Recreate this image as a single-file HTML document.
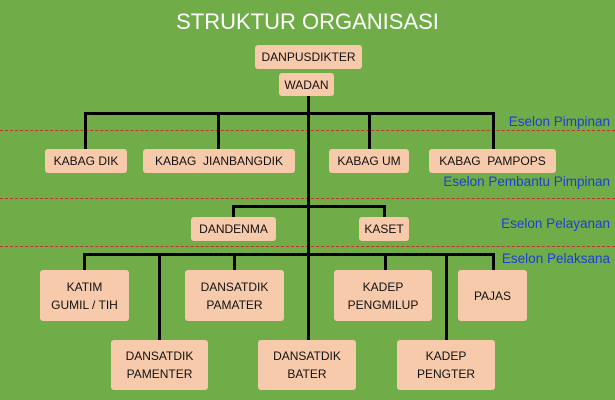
<!DOCTYPE html>
<html><head><style>
body{margin:0;width:615px;height:400px;background:#70ac47;position:relative;overflow:hidden;font-family:"Liberation Sans",sans-serif}
.b{position:absolute;background:#f7caac;border-radius:3px;display:flex;align-items:center;justify-content:center;text-align:center;font-size:12px;color:#111;line-height:18px;font-weight:500}
.l{position:absolute;background:#000}
.e{position:absolute;right:5px;color:#1c3fd8;font-size:13.5px}
.r{position:absolute;left:0;width:615px;border-top:1px dashed #c8302a}
</style></head><body>
<div style="position:absolute;top:9px;width:615px;text-align:center;color:#fff;font-size:22px">STRUKTUR ORGANISASI</div>
<div class="r" style="top:130px"></div><div class="r" style="top:198px"></div><div class="r" style="top:246px"></div>
<div class="l" style="left:307px;top:96px;width:3px;height:160px"></div>
<div class="l" style="left:84px;top:112px;width:411px;height:3px"></div>
<div class="l" style="left:84px;top:112px;width:3px;height:37px"></div>
<div class="l" style="left:217px;top:112px;width:3px;height:37px"></div>
<div class="l" style="left:368px;top:112px;width:3px;height:37px"></div>
<div class="l" style="left:492px;top:112px;width:3px;height:37px"></div>
<div class="l" style="left:232px;top:205px;width:154px;height:3px"></div>
<div class="l" style="left:232px;top:205px;width:3px;height:12px"></div>
<div class="l" style="left:383px;top:205px;width:3px;height:12px"></div>
<div class="l" style="left:83px;top:253px;width:412px;height:3px"></div>
<div class="l" style="left:83px;top:253px;width:3px;height:17px"></div>
<div class="l" style="left:158px;top:253px;width:3px;height:87px"></div>
<div class="l" style="left:233px;top:253px;width:3px;height:17px"></div>
<div class="l" style="left:307px;top:253px;width:3px;height:87px"></div>
<div class="l" style="left:384px;top:253px;width:3px;height:17px"></div>
<div class="l" style="left:445px;top:253px;width:3px;height:87px"></div>
<div class="l" style="left:492px;top:253px;width:3px;height:17px"></div>
<div class="b" style="left:255px;top:45px;width:107px;height:24px">DANPUSDIKTER</div>
<div class="b" style="left:279px;top:73px;width:55px;height:23px">WADAN</div>
<div class="b" style="left:45px;top:149px;width:82px;height:24px">KABAG DIK</div>
<div class="b" style="left:143px;top:149px;width:152px;height:24px">KABAG&nbsp; JIANBANGDIK</div>
<div class="b" style="left:329px;top:149px;width:80px;height:24px">KABAG UM</div>
<div class="b" style="left:429px;top:149px;width:127px;height:24px">KABAG&nbsp; PAMPOPS</div>
<div class="b" style="left:191px;top:217px;width:85px;height:24px">DANDENMA</div>
<div class="b" style="left:359px;top:217px;width:50px;height:24px">KASET</div>
<div class="b" style="left:40px;top:270px;width:89px;height:51px">KATIM<br>GUMIL / TIH</div>
<div class="b" style="left:185px;top:270px;width:99px;height:51px">DANSATDIK<br>PAMATER</div>
<div class="b" style="left:334px;top:270px;width:98px;height:51px">KADEP<br>PENGMILUP</div>
<div class="b" style="left:458px;top:270px;width:69px;height:51px">PAJAS</div>
<div class="b" style="left:111px;top:340px;width:97px;height:50px">DANSATDIK<br>PAMENTER</div>
<div class="b" style="left:258px;top:340px;width:98px;height:50px">DANSATDIK<br>BATER</div>
<div class="b" style="left:397px;top:340px;width:98px;height:50px">KADEP<br>PENGTER</div>
<div class="e" style="top:114px">Eselon Pimpinan</div>
<div class="e" style="top:174px">Eselon Pembantu Pimpinan</div>
<div class="e" style="top:216px">Eselon Pelayanan</div>
<div class="e" style="top:251px">Eselon Pelaksana</div>
</body></html>
